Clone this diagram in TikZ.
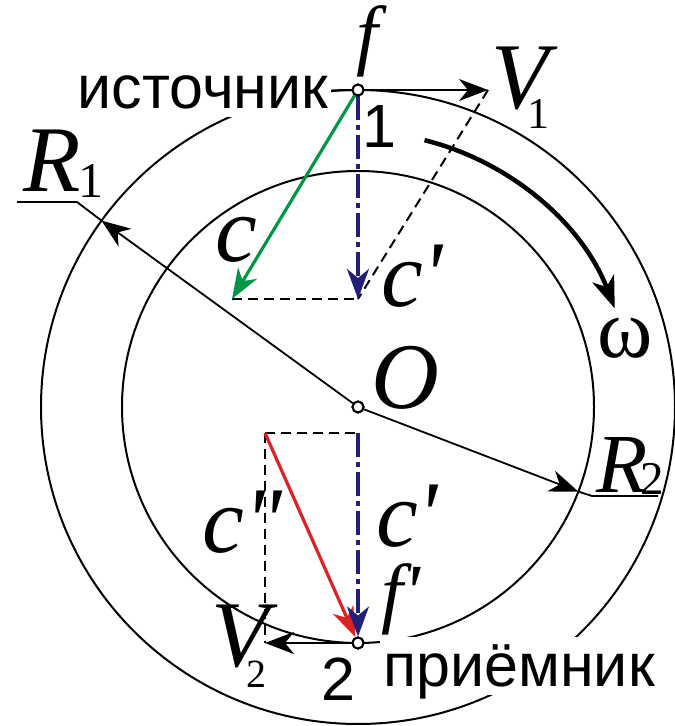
\documentclass[tikz,border=0pt]{standalone}
\usepackage{fontspec}
\setmainfont{Liberation Serif}
\newfontfamily\sansf{Liberation Sans}
\usetikzlibrary{arrows.meta,calc}
\definecolor{vgreen}{RGB}{0,150,70}
\definecolor{vred}{RGB}{220,35,35}
\definecolor{vnavy}{RGB}{35,30,120}
\begin{document}
\begin{tikzpicture}[x=1pt,y=1pt,
  ring/.style={line width=2pt},
  pointdot/.style={circle,draw,line width=2pt,fill=white,inner sep=0pt,minimum size=11pt},
  lbl/.style={inner sep=0pt,anchor=center},
  bigm/.style={lbl,font=\fontsize{94}{94}\selectfont\rmfamily\itshape},
  fm/.style={lbl,font=\fontsize{78}{78}\selectfont\rmfamily\itshape},
  sanslbl/.style={lbl,font=\fontsize{61}{61}\selectfont\sansf},
  blackarr/.style={line width=2.4pt,-{Stealth[length=29pt,width=22pt,inset=9pt]}},
  vecarr/.style={line width=3.2pt,-{Stealth[length=30pt,width=22pt,inset=9pt]}},
  dashline/.style={line width=2pt,dash pattern=on 10pt off 6pt},
  dashdot/.style={line width=3.2pt,color=vnavy,dash pattern=on 24pt off 5pt on 5pt off 5pt,-{Stealth[length=30pt,width=22pt,inset=9pt]}},
  leader/.style={line width=2pt}
]
\newcommand\subsc[3]{\raisebox{#2}{\fontsize{#1}{#1}\selectfont\upshape #3}}
\useasboundingbox (0,0) rectangle (675,726);
\coordinate (O) at (358,319);
\draw[ring] (O) circle[radius=317pt];
\draw[ring] (O) circle[radius=236pt];
% labels that mask the outer circle
\node[sanslbl,fill=white,inner xsep=3pt,inner ysep=9pt,text depth=0pt] (src) at (203,634) {источник};
\node[sanslbl,fill=white,inner xsep=3pt,inner ysep=8pt,text depth=0pt,anchor=base] (rcv) at (519,39) {приёмник};
% points
\node[pointdot] (P1) at (358,636) {};
\node[pointdot] (P2) at (358,83) {};
\node[pointdot] (Od) at (O) {};
% coordinates
\coordinate (V1tip) at (488,636);
\coordinate (Cp1) at (358,427);
\coordinate (C1) at (232,427);
\coordinate (TL) at (265,293);
\coordinate (TR) at (358,293);
\coordinate (V2tip) at (265,83);
\coordinate (R1tip) at ($(O)+(144:317pt)$);
\coordinate (R1k) at (77,524);
\coordinate (R1e) at (17,524);
\coordinate (R2tip) at ($(O)+(-21:236pt)$);
\coordinate (R2k) at (592,230);
\coordinate (R2e) at (658,230);
% construction lines
\draw[dashline] (C1) -- (Cp1);
\draw[dashline] (V1tip) -- (Cp1);
\draw[dashline] (TL) -- (TR);
\draw[dashline] (TL) -- (V2tip);
% radii
\draw[blackarr,line width=1.8pt] (Od) -- (R1tip);
\draw[leader,line width=1.8pt] (R1tip) -- (R1k) -- (R1e);
\draw[blackarr,line width=1.8pt] (Od) -- (R2tip);
\draw[leader,line width=1.8pt] (R2tip) -- (R2k) -- (R2e);
% vectors
\draw[leader] (src) -- (P1);
\draw[blackarr] (P1) -- (V1tip);
\draw[blackarr] (P2) -- (V2tip);
\draw[vecarr,color=vgreen] (P1) -- (C1);
\draw[dashdot] (P1) -- (Cp1);
\draw[vecarr,color=vred] (TL) -- (P2);
\draw[dashdot] (TR) -- (P2);
% rotation
\draw[line width=4.5pt,-{Stealth[length=32pt,width=23pt,inset=9pt]}] ($(O)+(76:275pt)$) arc[start angle=76,end angle=21,radius=275pt];
% redraw points on top
\node[pointdot] at (P1) {};
\node[pointdot] at (P2) {};
\node[pointdot] at (Od) {};
% math labels
\node[fm] (lf) at (367,685) {f};
\node[bigm,anchor=base west] (lV1) at (491,617) {V\kern-21pt\subsc{44}{-20pt}{1}};
\node[sanslbl] (l1) at (379,599) {1};
\node[bigm] (lc) at (236,486) {c};
\node[bigm] (lcp1) at (412,450) {c\textquotesingle};
\node[bigm,anchor=base west] (lR1) at (23,534) {R\kern-2pt\subsc{50}{-6pt}{1}};
\node[lbl,font=\fontsize{84}{84}\selectfont\rmfamily\upshape] (lw) at (625,388) {ω};
\node[bigm] (lO) at (405,348) {O};
\node[bigm,font=\fontsize{84}{84}\selectfont\rmfamily\itshape,anchor=base west] (lR2) at (596,233) {R\kern-7pt\subsc{47}{-2pt}{2}};
\node[bigm] (lcp2) at (407,210) {c\textquotesingle};
\node[bigm] (lcpp) at (242,204) {c\textquotesingle\kern-3pt\textquotesingle};
\node[fm] (lfp) at (401,127) {f\textquotesingle};
\node[bigm,anchor=base west] (lV2) at (211,59) {V\kern-22pt\subsc{40}{-21pt}{2}};
\node[sanslbl] (l2) at (338,47) {2};
\end{tikzpicture}
\end{document}
